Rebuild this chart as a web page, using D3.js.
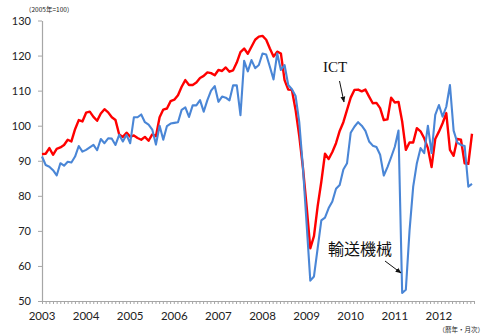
<!DOCTYPE html>
<html>
<head>
<meta charset="utf-8">
<script src="https://cdnjs.cloudflare.com/ajax/libs/d3/7.8.5/d3.min.js"></script>
<style>
  html, body { margin: 0; padding: 0; background: #fff; }
  svg { display: block; }
</style>
</head>
<body>
<svg id="chart" width="500" height="335"></svg>
<script>
// Monthly index, 2005 = 100, Jan 2003 – Oct 2012
const years = [2003, 2004, 2005, 2006, 2007, 2008, 2009, 2010, 2011, 2012];
const yTicks = [50, 60, 70, 80, 90, 100, 110, 120, 130];

// ICT industries
const ict = [
  91.9, 92.0, 93.6, 91.7, 93.4, 93.8, 94.5, 96.0, 95.5, 99.0, 101.6, 101.2,
  103.7, 104.0, 102.5, 101.4, 103.5, 104.7, 103.8, 102.4, 101.6, 97.5, 96.8, 98.0,
  96.9, 97.2, 96.5, 96.0, 96.8, 95.7, 97.5, 97.0, 102.4, 104.6, 104.9, 107.0,
  107.4, 108.7, 111.1, 113.0, 111.6, 111.6, 112.3, 113.6, 114.2, 115.2, 115.0, 114.4,
  115.9, 115.6, 116.6, 115.4, 115.8, 118.0, 121.0, 122.0, 120.5, 122.5, 124.5, 125.4,
  125.6, 124.5, 122.0, 119.7, 121.1, 120.6, 113.0, 110.3, 110.2, 104.5, 97.0, 88.0,
  77.0, 65.0, 68.5, 77.0, 84.0, 92.0, 90.5, 92.5, 95.0, 98.5, 101.0, 104.5,
  108.0, 110.2, 110.3, 109.8, 110.3, 108.3, 106.4, 106.5, 105.0, 101.6, 101.8, 108.0,
  106.6, 106.8, 101.2, 93.1, 95.2, 95.2, 99.3, 98.4, 96.4, 93.6, 88.2, 96.2,
  98.3, 100.7, 103.6, 93.1, 91.4, 96.2, 96.0, 89.3, 89.1, 97.7
];

// Transport equipment
const transport = [
  91.2, 88.8, 88.3, 87.3, 85.8, 89.3, 88.6, 89.7, 89.5, 91.2, 94.2, 92.6,
  93.1, 93.8, 94.5, 93.0, 96.2, 95.0, 96.4, 96.3, 94.5, 97.4, 95.5, 97.4,
  95.0, 102.4, 102.4, 103.2, 101.0, 100.3, 98.9, 94.6, 100.0, 96.0, 99.9, 100.6,
  100.8, 101.0, 104.5, 105.2, 102.5, 105.8, 105.8, 107.3, 104.0, 107.3, 110.0, 111.3,
  106.8, 108.3, 108.0, 107.2, 111.5, 111.5, 103.0, 118.5, 115.5, 118.7, 116.4, 117.3,
  120.6, 120.3, 116.8, 113.2, 120.6, 115.9, 117.3, 111.6, 110.4, 108.5, 101.0, 88.0,
  72.0, 55.8, 57.0, 65.0, 73.0, 73.8, 76.5, 78.4, 82.0, 83.1, 87.5, 89.3,
  98.0, 99.7, 101.0, 100.0, 98.5, 95.5, 94.3, 93.9, 91.7, 85.8, 88.2, 91.0,
  94.0, 98.6, 52.3, 53.2, 70.0, 82.6, 89.3, 93.6, 92.2, 100.0, 92.2, 103.1,
  105.9, 102.6, 105.4, 111.6, 98.6, 95.2, 94.5, 94.2, 82.6, 83.4
];

const svg = d3.select("#chart");
const tickFont = "Lato, 'Open Sans', sans-serif";

const x = d3.scaleLinear().domain([0, ict.length - 1]).range([42, 472]);
const y = d3.scaleLinear().domain([50, 130]).range([301, 20.5]);

// y axis
const yAxis = svg.append("g")
  .attr("transform", "translate(42,0)")
  .call(d3.axisLeft(y).tickValues(yTicks).tickSize(4).tickSizeOuter(0).tickPadding(7));
yAxis.select(".domain").attr("stroke", "#a6a6a6").attr("stroke-width", 1.2);
yAxis.selectAll(".tick line").attr("stroke", "#a6a6a6");
yAxis.selectAll(".tick text")
  .attr("font-family", tickFont).attr("font-size", 11).attr("fill", "#222");

// x axis: one tick per month, a year label at each January
const months = d3.range(0, ict.length + 1);
const xAxis = svg.append("g")
  .attr("transform", "translate(0,301)")
  .call(d3.axisBottom(d3.scaleLinear().domain([0, ict.length]).range([42, 474]))
    .tickValues(months).tickSize(3).tickSizeOuter(0).tickFormat(""));
xAxis.select(".domain").attr("stroke", "#a6a6a6").attr("stroke-width", 1.2);
xAxis.selectAll(".tick line").attr("stroke", "#a6a6a6");

svg.append("g").selectAll("text")
  .data(years)
  .join("text")
  .attr("x", (d, i) => x(i * 12))
  .attr("y", 320)
  .attr("text-anchor", "middle")
  .attr("font-family", tickFont)
  .attr("font-size", 11.5)
  .attr("fill", "#222")
  .text(d => d);

// unit notes
svg.append("text")
  .attr("x", 25).attr("y", 12)
  .attr("font-family", "'Noto Sans CJK JP', sans-serif")
  .attr("font-size", 6.5).attr("fill", "#222")
  .text("（2005年=100）");
svg.append("text")
  .attr("x", 484).attr("y", 332)
  .attr("text-anchor", "end")
  .attr("font-family", "'Noto Sans CJK JP', sans-serif")
  .attr("font-size", 6.5).attr("fill", "#222")
  .text("（暦年・月次）");

// series lines
const line = d3.line().x((d, i) => x(i)).y(d => y(d));
svg.append("path").datum(ict)
  .attr("fill", "none").attr("stroke", "#ff0000").attr("stroke-width", 2.4)
  .attr("stroke-linejoin", "round").attr("d", line);
svg.append("path").datum(transport)
  .attr("fill", "none").attr("stroke", "#4a86d6").attr("stroke-width", 2.1)
  .attr("stroke-linejoin", "round").attr("d", line);

// annotations with arrows
const defs = svg.append("defs");
defs.append("marker")
  .attr("id", "arrow")
  .attr("viewBox", "0 0 10 10")
  .attr("refX", 9).attr("refY", 5)
  .attr("markerWidth", 6).attr("markerHeight", 6)
  .attr("orient", "auto")
  .append("path").attr("d", "M0,1 L10,5 L0,9 Z").attr("fill", "#111");

svg.append("text")
  .attr("x", 335).attr("y", 72)
  .attr("text-anchor", "middle")
  .attr("font-family", "'Liberation Serif', 'DejaVu Serif', serif")
  .attr("font-size", 15).attr("fill", "#111")
  .text("ICT");
svg.append("line")
  .attr("x1", 339.5).attr("y1", 81)
  .attr("x2", 344).attr("y2", 102)
  .attr("stroke", "#111").attr("stroke-width", 1)
  .attr("marker-end", "url(#arrow)");

svg.append("text")
  .attr("x", 360).attr("y", 255)
  .attr("text-anchor", "middle")
  .attr("font-family", "'Noto Sans CJK JP', sans-serif")
  .attr("font-size", 16).attr("fill", "#111")
  .text("輸送機械");
svg.append("line")
  .attr("x1", 385).attr("y1", 261)
  .attr("x2", 401).attr("y2", 273)
  .attr("stroke", "#111").attr("stroke-width", 1)
  .attr("marker-end", "url(#arrow)");
</script>
</body>
</html>
